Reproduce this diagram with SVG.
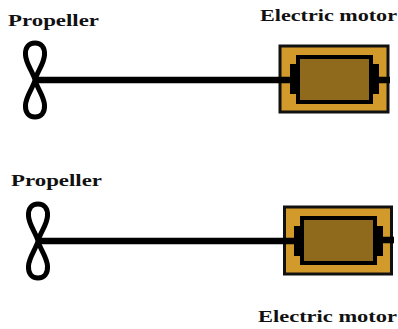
<svg xmlns="http://www.w3.org/2000/svg" width="398" height="329" viewBox="0 0 398 329">
<style>
text{font-family:"Liberation Serif","Times New Roman",serif;font-weight:bold;font-size:17.5px;fill:#111}
.shaft{stroke:#000;stroke-width:6.500;fill:none}
.blade{stroke:#000;stroke-width:5;fill:none}
.case{fill:#d29a2b;stroke:#111;stroke-width:3}
.core{fill:#8f6a1c;stroke:#000;stroke-width:4}
.cap{fill:#000}
</style>
<rect width="398" height="329" fill="#fff"/>
<defs>
<path id="prop" class="blade" d="M0 0C-2 -8 -9 -16 -9.500 -25C-10 -33 -6 -37 0 -37C6 -37 10 -33 9.500 -25C9 -16 2 -8 0 0C-2 8 -9 16 -9.500 25C-10 33 -6 37 0 37C6 37 10 33 9.500 25C9 16 2 8 0 0Z"/>
</defs>
<g id="propeller-1"><use href="#prop" x="35" y="80"/><text x="8" y="26" textLength="91" lengthAdjust="spacingAndGlyphs">Propeller</text></g>
<g id="motor-1">
<rect class="case" x="280" y="46" width="108" height="66"/>
<rect class="cap" x="290" y="64" width="9" height="30"/>
<rect class="cap" x="370" y="64" width="9" height="30"/>
<rect class="core" x="298" y="57" width="73" height="45"/>
<text x="260" y="21" textLength="137" lengthAdjust="spacingAndGlyphs">Electric motor</text>
</g>
<g id="propeller-2"><use href="#prop" x="38" y="241"/><text x="11" y="186" textLength="91" lengthAdjust="spacingAndGlyphs">Propeller</text></g>
<g id="motor-2">
<rect class="case" x="284.500" y="207" width="107" height="67"/>
<rect class="cap" x="294" y="226" width="9" height="30"/>
<rect class="cap" x="374" y="226" width="9" height="30"/>
<rect class="core" x="302" y="218" width="73" height="45"/>
<text x="258" y="322" textLength="139" lengthAdjust="spacingAndGlyphs">Electric motor</text>
</g>
<g id="connectors">
<path class="shaft" d="M35 80H291M378 80H390"/>
<path class="shaft" d="M38 241H295M382 240H394"/>
</g>
</svg>
